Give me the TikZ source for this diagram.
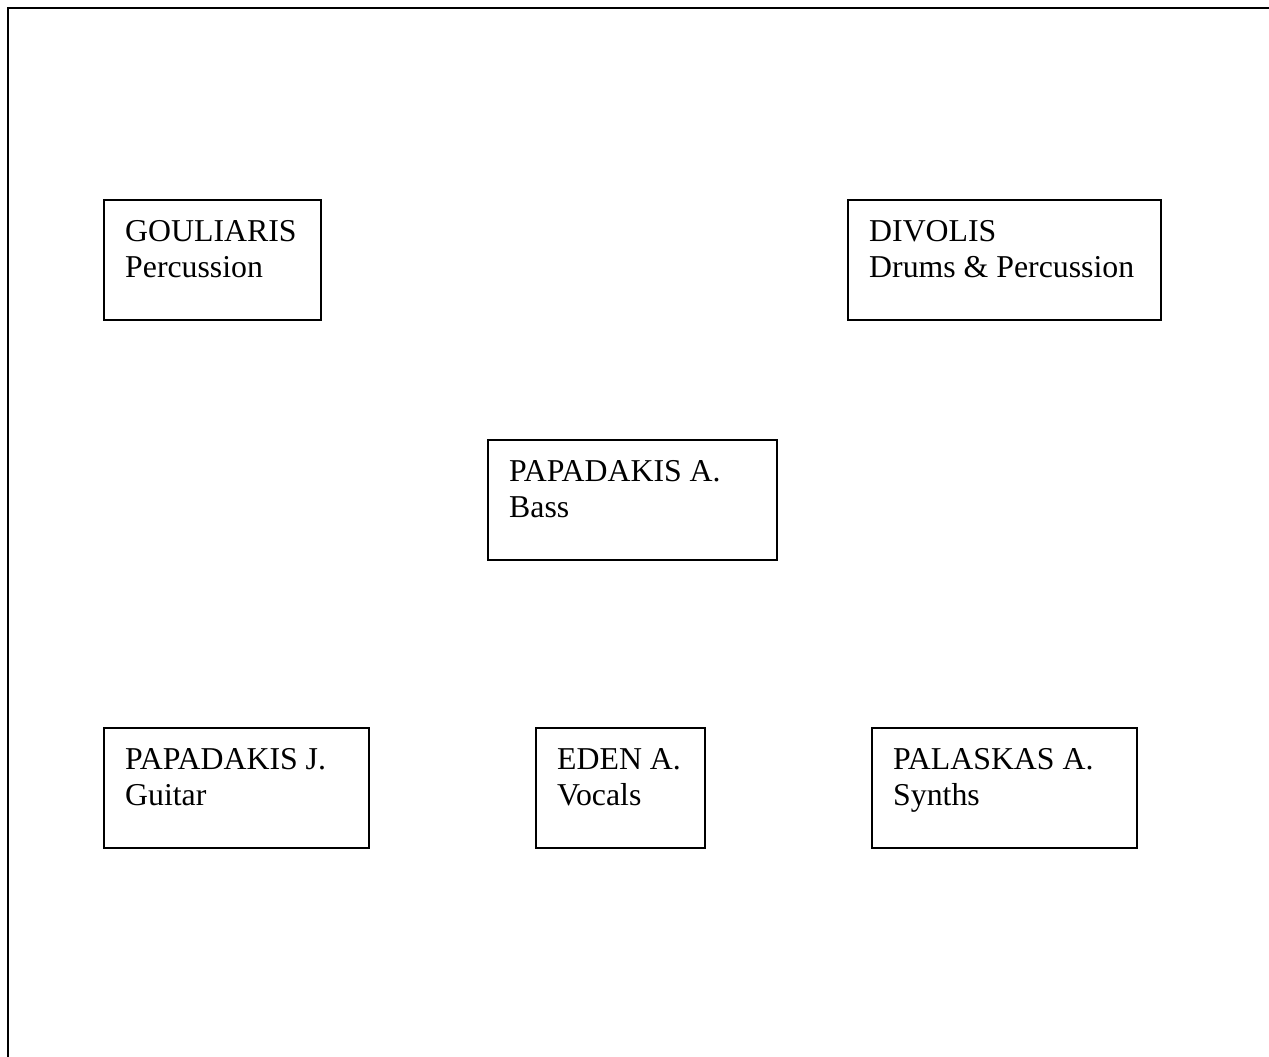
\documentclass[tikz,border=0pt]{standalone}
\usepackage{fontspec}
\setmainfont{Liberation Serif}
\begin{document}
\begin{tikzpicture}[x=1pt,y=-1pt,
  box/.style={draw,line width=1.6pt,minimum height=120pt,anchor=north west,inner sep=0pt,outer sep=0pt},
  lbl/.style={anchor=base west,align=left,inner sep=0pt,font=\fontsize{31.8}{36}\selectfont}]
\useasboundingbox (0,0) rectangle (1269,1057);
\draw[line width=2pt] (8,1060) -- (8,8) -- (1272,8);
\node[box,minimum width=217pt] (g) at (104,200) {};
\node[lbl] (gt) at ([xshift=21pt,yshift=-77pt]g.north west) {GOULIARIS\\Percussion};
\node[box,minimum width=313pt] (d) at (848,200) {};
\node[lbl] (dt) at ([xshift=21pt,yshift=-77pt]d.north west) {DIVOLIS\\Drums \& Percussion};
\node[box,minimum width=289pt] (pa) at (488,440) {};
\node[lbl] (pat) at ([xshift=21pt,yshift=-77pt]pa.north west) {PAPADAKIS A.\\Bass};
\node[box,minimum width=265pt] (pj) at (104,728) {};
\node[lbl] (pjt) at ([xshift=21pt,yshift=-77pt]pj.north west) {PAPADAKIS J.\\Guitar};
\node[box,minimum width=169pt] (e) at (536,728) {};
\node[lbl] (et) at ([xshift=21pt,yshift=-77pt]e.north west) {EDEN A.\\Vocals};
\node[box,minimum width=265pt] (pl) at (872,728) {};
\node[lbl] (plt) at ([xshift=21pt,yshift=-77pt]pl.north west) {PALASKAS A.\\Synths};
\end{tikzpicture}
\end{document}
